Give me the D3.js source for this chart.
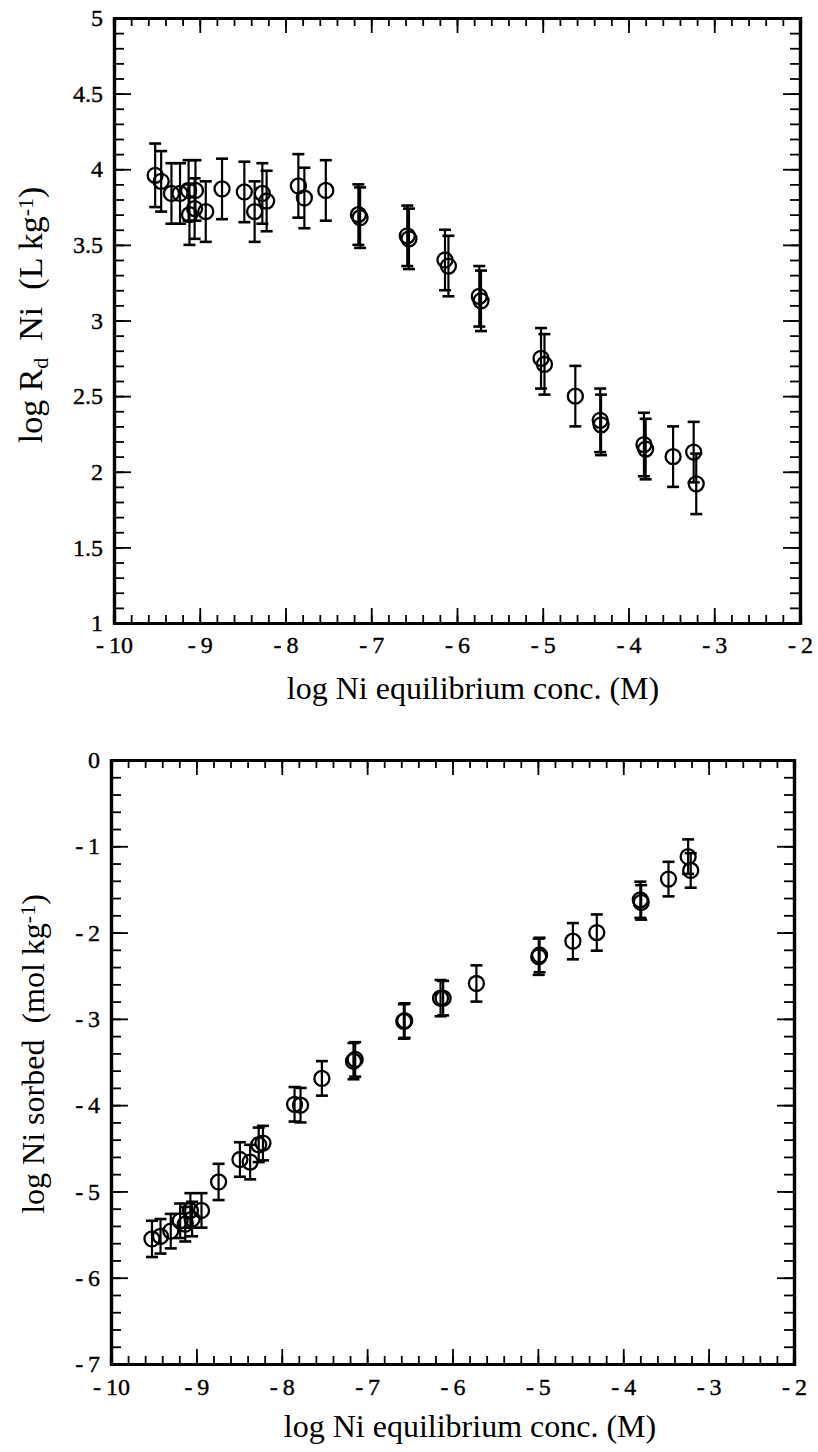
<!DOCTYPE html>
<html>
<head>
<meta charset="UTF-8">
<title>Ni sorption</title>
<script src="https://d3js.org/d3.v7.min.js"></script>
<style>
  body { margin: 0; background: #fff; }
  svg text { font-family: "Liberation Serif", "Times New Roman", serif; fill: #000; }
</style>
</head>
<body>
<script>
  // top panel: log Rd Ni vs log Ni equilibrium conc.
  var rdConc = [-9.52, -9.45, -9.33, -9.23, -9.13, -9.05, -9.12, -9.06, -8.93, -8.74, -8.48, -8.36, -8.27, -8.22,
                -7.85, -7.78, -7.53, -7.15, -7.13, -6.58, -6.56, -6.14, -6.10, -5.74, -5.72, -5.02, -4.98,
                -4.62, -4.33, -4.32, -3.82, -3.80, -3.48, -3.24, -3.21];
  var rdVal  = [3.96, 3.92, 3.84, 3.84, 3.86, 3.86, 3.70, 3.74, 3.72, 3.87, 3.85, 3.72, 3.84, 3.79,
                3.89, 3.81, 3.86, 3.70, 3.68, 3.56, 3.54, 3.40, 3.36, 3.16, 3.13, 2.75, 2.71,
                2.50, 2.34, 2.31, 2.18, 2.15, 2.10, 2.13, 1.92];
  var rdErr  = [0.21, 0.20, 0.20, 0.20, 0.20, 0.20, 0.20, 0.20, 0.20, 0.20, 0.20, 0.20, 0.20, 0.20,
                0.21, 0.20, 0.20, 0.20, 0.20, 0.20, 0.20, 0.20, 0.20, 0.20, 0.20, 0.20, 0.20,
                0.20, 0.21, 0.20, 0.21, 0.20, 0.20, 0.20, 0.20];

  // bottom panel: log Ni sorbed vs log Ni equilibrium conc.
  var sorbConc = [-9.52, -9.42, -9.30, -9.19, -9.13, -9.07, -9.05, -8.94, -8.74, -8.49, -8.37, -8.27, -8.22,
                  -7.85, -7.78, -7.53, -7.16, -7.14, -6.57, -6.56, -6.14, -6.11, -5.72, -4.99, -4.98,
                  -4.59, -4.31, -3.80, -3.79, -3.47, -3.24, -3.21];
  var sorbVal  = [-5.55, -5.52, -5.46, -5.34, -5.38, -5.22, -5.32, -5.22, -4.89, -4.63, -4.66, -4.46, -4.44,
                  -3.99, -4.00, -3.69, -3.49, -3.47, -3.03, -3.02, -2.76, -2.76, -2.59, -2.28, -2.26,
                  -2.10, -2.00, -1.62, -1.65, -1.38, -1.12, -1.28];
  var sorbErr  = [0.21, 0.20, 0.20, 0.20, 0.20, 0.20, 0.20, 0.20, 0.21, 0.20, 0.20, 0.20, 0.20,
                  0.20, 0.20, 0.20, 0.21, 0.20, 0.20, 0.20, 0.21, 0.20, 0.21, 0.21, 0.20,
                  0.21, 0.21, 0.21, 0.20, 0.20, 0.20, 0.20];

  var xTicks = [-10, -9, -8, -7, -6, -5, -4, -3, -2];
  var rdTicks = [1, 1.5, 2, 2.5, 3, 3.5, 4, 4.5, 5];
  var sorbTicks = [0, -1, -2, -3, -4, -5, -6, -7];

  var svg = d3.select("body").append("svg")
    .attr("width", 818)
    .attr("height", 1452);

  function minus(d) {
    return d < 0 ? "-\u2009" + Math.abs(d) : String(d);
  }

  function drawPanel(p) {
    var x = d3.scaleLinear().domain([-10, -2]).range([p.left, p.right]);
    var y = d3.scaleLinear().domain(p.yDomain).range([p.bottom, p.top]);
    var g = svg.append("g");

    var xMinor = d3.range(-10, -1.99, 0.2);
    var yMinor = d3.range(p.yDomain[0], p.yDomain[1] + 0.001, p.yMinorStep);

    // minor ticks, pointing inward on all four sides
    g.append("g").attr("transform", "translate(0," + p.bottom + ")")
      .call(d3.axisBottom(x).tickValues(xMinor).tickSize(-8).tickFormat(""));
    g.append("g").attr("transform", "translate(0," + p.top + ")")
      .call(d3.axisTop(x).tickValues(xMinor).tickSize(-8).tickFormat(""));
    g.append("g").attr("transform", "translate(" + p.left + ",0)")
      .call(d3.axisLeft(y).tickValues(yMinor).tickSize(-10).tickFormat(""));
    g.append("g").attr("transform", "translate(" + p.right + ",0)")
      .call(d3.axisRight(y).tickValues(yMinor).tickSize(-10).tickFormat(""));

    // major ticks + labels
    g.append("g").attr("transform", "translate(0," + p.bottom + ")")
      .call(d3.axisBottom(x).tickValues(xTicks).tickSize(-15).tickSizeOuter(0).tickPadding(p.xPad).tickFormat(minus));
    g.append("g").attr("transform", "translate(0," + p.top + ")")
      .call(d3.axisTop(x).tickValues(xTicks).tickSize(-15).tickSizeOuter(0).tickFormat(""));
    g.append("g").attr("transform", "translate(" + p.left + ",0)")
      .call(d3.axisLeft(y).tickValues(p.yTicks).tickSize(-17).tickSizeOuter(0).tickPadding(11).tickFormat(p.yFormat));
    g.append("g").attr("transform", "translate(" + p.right + ",0)")
      .call(d3.axisRight(y).tickValues(p.yTicks).tickSize(-17).tickSizeOuter(0).tickFormat(""));

    g.selectAll(".domain").attr("stroke", "#000").attr("stroke-width", 3.2);
    g.selectAll(".tick line").attr("stroke", "#000").attr("stroke-width", 1.8);
    g.selectAll(".tick text")
      .style("font-size", "24px")
      .attr("stroke", "#000").attr("stroke-width", 0.4);

    // error bars
    var pts = p.xs.map(function (v, i) { return { x: v, y: p.ys[i], e: p.es[i] }; });
    var bars = g.append("g").attr("stroke", "#000").attr("stroke-width", 2.2);
    bars.selectAll("line.v").data(pts).enter().append("line")
      .attr("x1", function (d) { return x(d.x); })
      .attr("x2", function (d) { return x(d.x); })
      .attr("y1", function (d) { return y(d.y + d.e); })
      .attr("y2", function (d) { return y(d.y - d.e); });
    bars.selectAll("line.t").data(pts).enter().append("line")
      .attr("x1", function (d) { return x(d.x) - 6; })
      .attr("x2", function (d) { return x(d.x) + 6; })
      .attr("y1", function (d) { return y(d.y + d.e); })
      .attr("y2", function (d) { return y(d.y + d.e); })
      .attr("stroke-width", 2.6);
    bars.selectAll("line.b").data(pts).enter().append("line")
      .attr("x1", function (d) { return x(d.x) - 6; })
      .attr("x2", function (d) { return x(d.x) + 6; })
      .attr("y1", function (d) { return y(d.y - d.e); })
      .attr("y2", function (d) { return y(d.y - d.e); })
      .attr("stroke-width", 2.6);

    g.append("g").selectAll("circle").data(pts).enter().append("circle")
      .attr("cx", function (d) { return x(d.x); })
      .attr("cy", function (d) { return y(d.y); })
      .attr("r", 7.5)
      .attr("fill", "none")
      .attr("stroke", "#000")
      .attr("stroke-width", 2.3);

    // x title
    g.append("text")
      .attr("x", p.titleX).attr("y", p.xTitleY)
      .attr("text-anchor", "middle")
      .style("font-size", "32px")
      .text("log Ni equilibrium conc. (M)");
  }

  drawPanel({
    left: 114, right: 800, top: 18, bottom: 623,
    yDomain: [1, 5], yMinorStep: 0.1, yTicks: rdTicks,
    yFormat: function (d) { return String(d); },
    xPad: 13, titleX: 473, xTitleY: 699,
    xs: rdConc, ys: rdVal, es: rdErr
  });

  drawPanel({
    left: 111, right: 794, top: 760, bottom: 1364,
    yDomain: [-7, 0], yMinorStep: 0.2, yTicks: sorbTicks,
    yFormat: minus,
    xPad: 14, titleX: 470, xTitleY: 1437,
    xs: sorbConc, ys: sorbVal, es: sorbErr
  });

  // y titles
  var t1 = svg.append("text")
    .attr("transform", "translate(42,315) rotate(-90)")
    .attr("text-anchor", "middle")
    .style("font-size", "34px")
    .style("white-space", "pre");
  t1.append("tspan").text("log R");
  t1.append("tspan").attr("baseline-shift", "-25%").style("font-size", "22px").text("d");
  t1.append("tspan").text("  Ni  (L kg");
  t1.append("tspan").attr("baseline-shift", "40%").style("font-size", "22px").text("-1");
  t1.append("tspan").text(")");

  var t2 = svg.append("text")
    .attr("transform", "translate(44,1054) rotate(-90)")
    .attr("text-anchor", "middle")
    .style("font-size", "32px")
    .style("white-space", "pre");
  t2.append("tspan").text("log Ni sorbed  (mol kg");
  t2.append("tspan").attr("baseline-shift", "40%").style("font-size", "22px").text("-1");
  t2.append("tspan").text(")");
</script>
</body>
</html>
